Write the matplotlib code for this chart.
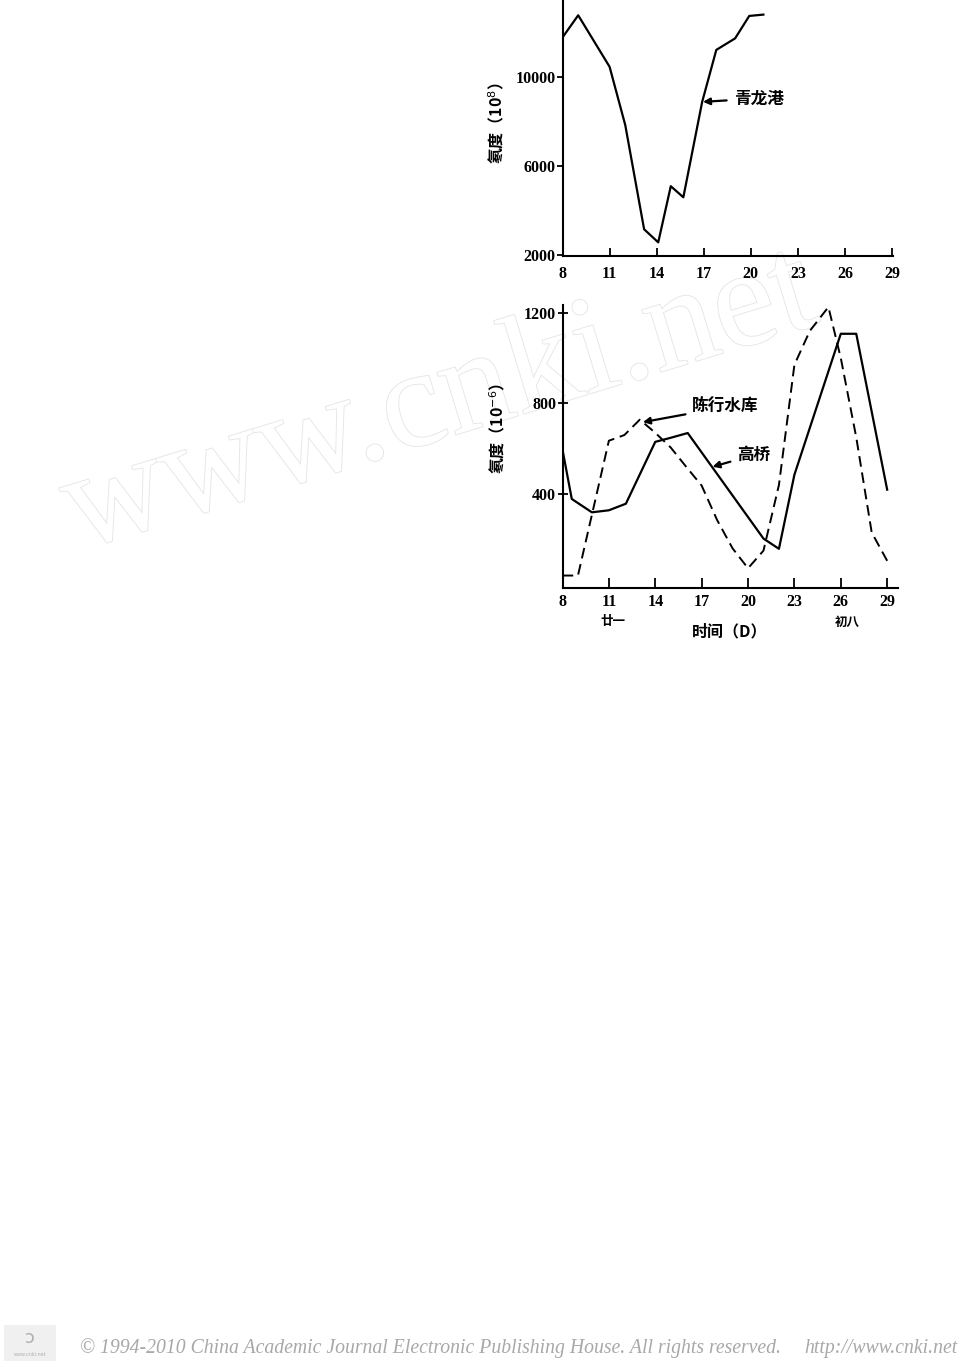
import matplotlib
matplotlib.use("Agg")
import matplotlib.pyplot as plt
import matplotlib.patheffects as pe
from matplotlib.patches import Rectangle

plt.rcParams['font.family'] = ['Noto Sans CJK SC', 'DejaVu Sans']

# 青龙港 (upper panel)
days_qlg = [8, 9, 11, 12, 13.2, 14.1, 14.9, 15.7, 16.9, 17.8, 19, 19.9, 20.8]
conc_qlg = [11800, 12800, 10480, 7850, 3160, 2570, 5100, 4600, 8900, 11240, 11760, 12770, 12830]

# 高桥 (solid, lower panel)
days_gq = [8, 8.6, 9.9, 11, 12.1, 14, 15, 16.1, 21, 22, 23, 26, 27, 29]
conc_gq = [595, 378, 319, 328, 357, 630, 648, 669, 203, 158, 485, 1107, 1107, 419]

# 陈行水库 (dashed, lower panel)
days_cx = [8, 9, 11, 12, 13, 14, 15, 16, 17, 18, 19, 20, 21, 22, 23, 24, 25.2, 26, 27, 28, 29]
conc_cx = [40, 40, 635, 660, 728, 670, 605, 520, 437, 285, 160, 72, 150, 440, 970, 1120, 1225, 1000, 650, 230, 105]

xticks = [8, 11, 14, 17, 20, 23, 26, 29]
yticks_top = [2000, 6000, 10000]
yticks_bot = [400, 800, 1200]

W, H = 960, 1362
fig = plt.figure(figsize=(W / 100, H / 100), dpi=100)


def box(l, t, r, b):
    return [l / W, 1 - b / H, (r - l) / W, (b - t) / H]


def fx(px):
    return px / W


def fy(py):
    return 1 - py / H


# faint watermark behind the charts
fig.text(fx(78), fy(550), "www.cnki.net", family="Liberation Serif", fontsize=101,
         rotation=17, rotation_mode="anchor", ha="left", va="baseline",
         color="white", zorder=-5,
         path_effects=[pe.withStroke(linewidth=1.3, foreground="#e6e6e6")])

num_font = dict(family="Liberation Serif", weight="bold", size=11.5)
cjk_bold = dict(family=["Noto Sans CJK SC", "DejaVu Sans"], weight="bold")

ax1 = fig.add_axes(box(562.5, 0, 892.7, 256))
ax2 = fig.add_axes(box(562.5, 305, 898.3, 588))

for ax in (ax1, ax2):
    ax.set_facecolor("none")
    ax.spines["top"].set_visible(False)
    ax.spines["right"].set_visible(False)
    for s in ("left", "bottom"):
        ax.spines[s].set_linewidth(1.5)
    ax.set_xticks(xticks)
    for t in ax.get_xticklabels():
        t.set(**num_font)

ax1.tick_params(axis="x", direction="in", length=6, width=1.3, pad=7)
ax2.tick_params(axis="x", direction="in", length=7, width=1.3, pad=4)

ax1.plot(days_qlg, conc_qlg, color="black", lw=1.6)
ax1.set_xlim(8, 29.04)
ax1.set_ylim(1955, 13488)
ax1.set_yticks(yticks_top)
ax1.tick_params(axis="y", direction="out", length=4, width=1.3, pad=1)
for t in ax1.get_yticklabels():
    t.set(**num_font)
ax1.set_ylabel("氡度（10$^{8}$）", fontsize=11.5, **cjk_bold)
ax1.yaxis.set_label_coords(-0.17, 0.52)
ax1.annotate("青龙港", xy=(16.95, 8900), xytext=(18.9, 9050), ha="left", va="center",
             fontsize=12, **cjk_bold,
             arrowprops=dict(arrowstyle="-|>", color="black", lw=1.6,
                             mutation_scale=10, shrinkA=3, shrinkB=0))

ax2.plot(days_gq, conc_gq, color="black", lw=1.6)
ax2.plot(days_cx, conc_cx, color="black", lw=1.4, dashes=(5.5, 3))
ax2.set_xlim(8, 29.72)
ax2.set_ylim(-15, 1234)
ax2.set_yticks(yticks_bot)
ax2.tick_params(axis="y", direction="inout", length=7, width=1.3, pad=1)
for t in ax2.get_yticklabels():
    t.set(**num_font)
ax2.set_ylabel("氡度（10$^{-6}$）", fontsize=11.5, **cjk_bold)
ax2.yaxis.set_label_coords(-0.165, 0.565)
ax2.annotate("陈行水库", xy=(13.2, 717), xytext=(16.4, 784), ha="left", va="center",
             fontsize=12, **cjk_bold,
             arrowprops=dict(arrowstyle="-|>", color="black", lw=1.6,
                             mutation_scale=10, shrinkA=3, shrinkB=0))
ax2.annotate("高桥", xy=(17.7, 520), xytext=(19.3, 572), ha="left", va="center",
             fontsize=12, **cjk_bold,
             arrowprops=dict(arrowstyle="-|>", color="black", lw=1.6,
                             mutation_scale=10, shrinkA=3, shrinkB=0))

# lunar-date notes and axis title under the lower panel
fig.text(fx(613), fy(621), "廿一", fontsize=9, ha="center", va="center", **cjk_bold)
fig.text(fx(847), fy(622), "初八", fontsize=9, ha="center", va="center", **cjk_bold)
fig.text(fx(730), fy(631), "时间（D）", fontsize=11.5, ha="center", va="center", **cjk_bold)

# footer
fig.add_artist(Rectangle((fx(4), fy(1361)), 52 / W, 36 / H, transform=fig.transFigure,
                         facecolor="#f0f0f0", edgecolor="none"))
fig.text(fx(30), fy(1338), "ↄ", fontsize=13, color="#b0b0b0", ha="center", va="center",
         family="DejaVu Sans")
fig.text(fx(30), fy(1355), "www.cnki.net", fontsize=3.5, color="#b0b0b0", ha="center",
         va="center", family="DejaVu Sans")
fig.text(fx(80), fy(1348), "© 1994-2010 China Academic Journal Electronic Publishing House. All rights reserved.",
         family="Liberation Serif", style="italic", fontsize=14.2, color="#a8a8a8",
         ha="left", va="center")
fig.text(fx(958), fy(1348), "http://www.cnki.net", family="Liberation Serif", style="italic",
         fontsize=14.2, color="#a8a8a8", ha="right", va="center")

fig.savefig("out.png", dpi=100)
